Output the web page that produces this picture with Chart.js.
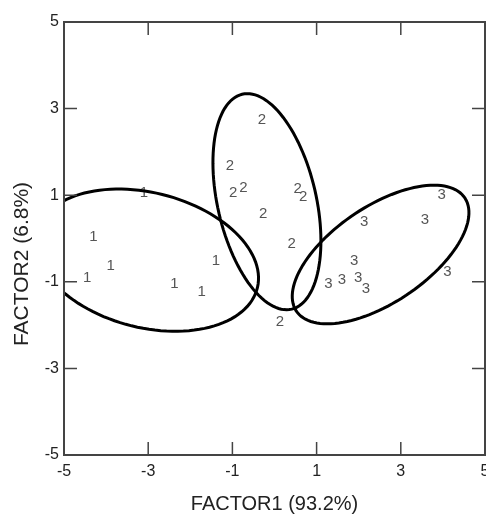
<!DOCTYPE html>
<html>
<head>
<meta charset="utf-8">
<script src="https://cdn.jsdelivr.net/npm/chart.js@4.4.0/dist/chart.umd.min.js"></script>
<style>
  html, body { margin: 0; padding: 0; background: #fff; }
</style>
</head>
<body>
<canvas id="graficaFactores" width="486" height="516"></canvas>
<script>
// Puntuaciones por grupo (FACTOR1, FACTOR2)
const grupo1X = [-3.10, -4.30, -3.89, -4.45, -2.38, -1.73, -1.39];
const grupo1Y = [1.05, 0.03, -0.64, -0.90, -1.04, -1.23, -0.52];
const grupo2X = [-0.30, -1.06, -0.98, -0.74, 0.55, 0.68, -0.27, 0.41, 0.13];
const grupo2Y = [2.75, 1.67, 1.06, 1.18, 1.14, 0.97, 0.57, -0.13, -1.92];
const grupo3X = [3.97, 2.13, 3.57, 1.89, 1.28, 1.60, 1.99, 2.17, 4.11];
const grupo3Y = [1.00, 0.39, 0.43, -0.51, -1.04, -0.96, -0.92, -1.17, -0.77];
const etiquetasGrupo = ["1", "2", "3"];

// Elipses: [centroX, centroY, semiejeA, semiejeB, angulo en grados]
const elipse1 = [-3.03, -0.50, 2.70, 1.56, -13.5];
const elipse2 = [-0.18, 0.85, 2.55, 1.17, -76.6];
const elipse3 = [2.52, -0.37, 2.39, 1.12, 32.8];

const limitesEje = [-5, 5];
const pasoEje = 2;

const fuente = "'Liberation Sans', Arial, sans-serif";

function puntos(xs, ys) {
  return xs.map((x, i) => ({ x: x, y: ys[i] }));
}

// Etiquetas de texto en lugar de marcadores
const textoPuntos = {
  id: "textoPuntos",
  afterDatasetsDraw(chart) {
    const ctx = chart.ctx;
    ctx.save();
    ctx.font = "15px " + fuente;
    ctx.fillStyle = "#555";
    ctx.textAlign = "center";
    ctx.textBaseline = "middle";
    chart.data.datasets.forEach((ds, i) => {
      chart.getDatasetMeta(i).data.forEach((el) => {
        ctx.fillText(ds.label, el.x, el.y);
      });
    });
    ctx.restore();
  },
};

// Elipses, marco, marcas hacia dentro y título del eje Y
const elipsesYMarco = {
  id: "elipsesYMarco",
  afterDraw(chart) {
    const ctx = chart.ctx;
    const xs = chart.scales.x;
    const ys = chart.scales.y;
    const area = chart.chartArea;

    ctx.save();
    ctx.beginPath();
    ctx.rect(area.left, area.top, area.right - area.left, area.bottom - area.top);
    ctx.clip();
    ctx.strokeStyle = "#000";
    ctx.lineWidth = 3;
    [elipse1, elipse2, elipse3].forEach(([cx, cy, a, b, ang]) => {
      const r = (ang * Math.PI) / 180;
      ctx.beginPath();
      for (let k = 0; k <= 120; k++) {
        const t = (k / 120) * Math.PI * 2;
        const u = a * Math.cos(t);
        const v = b * Math.sin(t);
        const px = xs.getPixelForValue(cx + u * Math.cos(r) - v * Math.sin(r));
        const py = ys.getPixelForValue(cy + u * Math.sin(r) + v * Math.cos(r));
        if (k === 0) ctx.moveTo(px, py);
        else ctx.lineTo(px, py);
      }
      ctx.closePath();
      ctx.stroke();
    });
    ctx.restore();

    ctx.save();
    ctx.strokeStyle = "#444";
    ctx.lineWidth = 2;
    ctx.strokeRect(area.left, area.top, area.right - area.left, area.bottom - area.top);
    ctx.lineWidth = 1.5;
    const largo = 13;
    ctx.beginPath();
    xs.ticks.forEach((t) => {
      if (t.value === limitesEje[0] || t.value === limitesEje[1]) return;
      const p = xs.getPixelForValue(t.value);
      ctx.moveTo(p, area.bottom);
      ctx.lineTo(p, area.bottom - largo);
      ctx.moveTo(p, area.top);
      ctx.lineTo(p, area.top + largo);
    });
    ys.ticks.forEach((t) => {
      if (t.value === limitesEje[0] || t.value === limitesEje[1]) return;
      const p = ys.getPixelForValue(t.value);
      ctx.moveTo(area.left, p);
      ctx.lineTo(area.left + largo, p);
      ctx.moveTo(area.right, p);
      ctx.lineTo(area.right - largo, p);
    });
    ctx.stroke();

    ctx.translate(22, 264);
    ctx.rotate(-Math.PI / 2);
    ctx.font = "21px " + fuente;
    ctx.fillStyle = "#222";
    ctx.textAlign = "center";
    ctx.textBaseline = "middle";
    ctx.fillText("FACTOR2 (6.8%)", 0, 0);
    ctx.restore();
  },
};

const ctx = document.getElementById("graficaFactores").getContext("2d");
new Chart(ctx, {
  type: "scatter",
  data: {
    datasets: [
      { label: etiquetasGrupo[0], data: puntos(grupo1X, grupo1Y), pointRadius: 0 },
      { label: etiquetasGrupo[1], data: puntos(grupo2X, grupo2Y), pointRadius: 0 },
      { label: etiquetasGrupo[2], data: puntos(grupo3X, grupo3Y), pointRadius: 0 },
    ],
  },
  options: {
    responsive: false,
    animation: false,
    events: [],
    layout: { padding: { top: 22, right: 1, left: 0, bottom: 0 } },
    plugins: {
      legend: { display: false },
      tooltip: { enabled: false },
    },
    scales: {
      x: {
        type: "linear",
        min: limitesEje[0],
        max: limitesEje[1],
        grid: { display: false, drawTicks: false },
        border: { display: false },
        ticks: {
          stepSize: pasoEje,
          padding: 7,
          color: "#222",
          font: { size: 16, family: fuente },
        },
        title: {
          display: true,
          text: "FACTOR1 (93.2%)",
          color: "#222",
          font: { size: 20, family: fuente },
          padding: { top: 8, bottom: 0 },
        },
        afterFit(scale) {
          scale.height = 61;
          scale.paddingLeft = 0;
          scale.paddingRight = 0;
        },
      },
      y: {
        type: "linear",
        min: limitesEje[0],
        max: limitesEje[1],
        grid: { display: false, drawTicks: false },
        border: { display: false },
        ticks: {
          stepSize: pasoEje,
          padding: 5,
          color: "#222",
          font: { size: 16, family: fuente },
        },
        afterFit(scale) {
          scale.width = 64;
        },
      },
    },
  },
  plugins: [textoPuntos, elipsesYMarco],
});
</script>
</body>
</html>
